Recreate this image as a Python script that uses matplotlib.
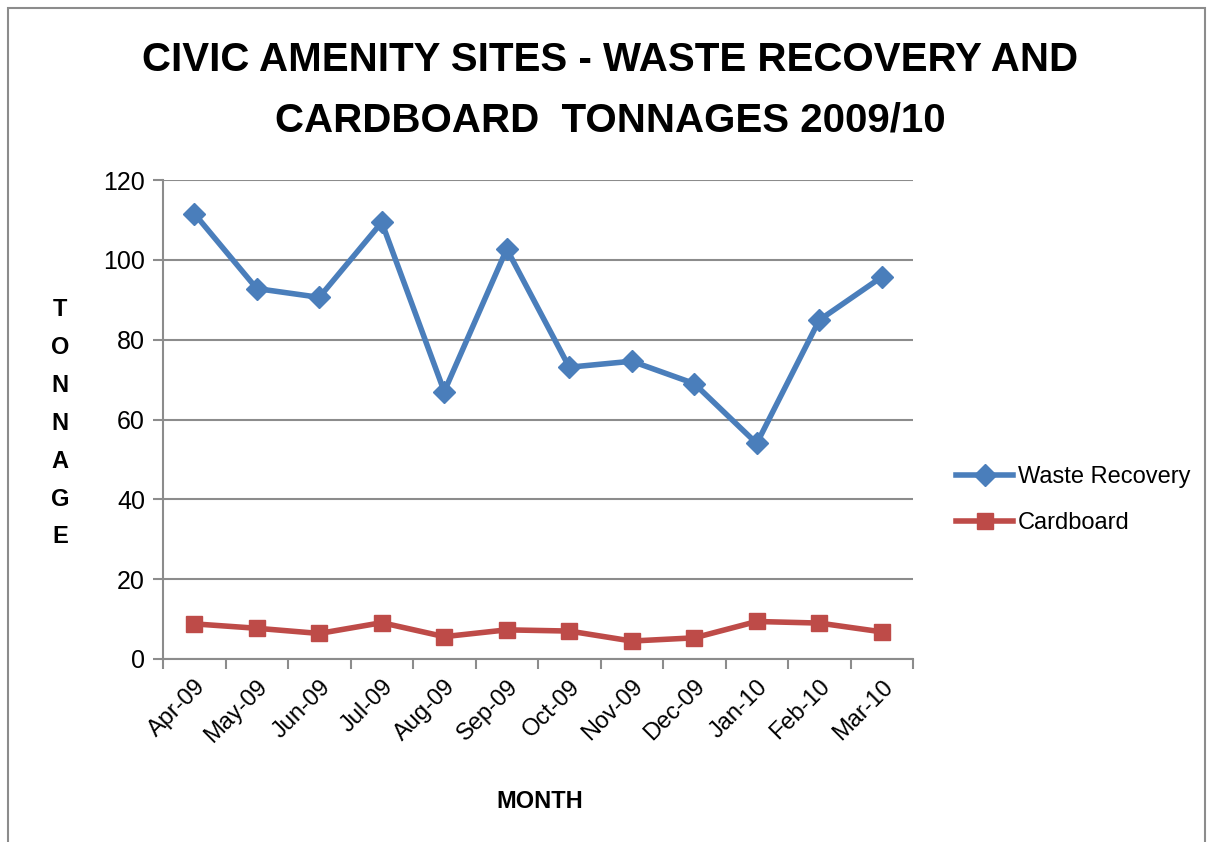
import matplotlib
matplotlib.use("Agg")
import matplotlib.pyplot as plt
from matplotlib.patches import Rectangle

months = ["Apr-09", "May-09", "Jun-09", "Jul-09", "Aug-09", "Sep-09",
          "Oct-09", "Nov-09", "Dec-09", "Jan-10", "Feb-10", "Mar-10"]
waste_recovery = [111.6, 92.8, 90.6, 109.4, 67.0, 102.7, 73.1, 74.6, 69.0, 54.0, 84.9, 95.7]
cardboard = [8.8, 7.7, 6.4, 9.1, 5.6, 7.3, 7.0, 4.5, 5.3, 9.4, 9.0, 6.8]
y_ticks = [0, 20, 40, 60, 80, 100, 120]

FONT = ["Liberation Sans Narrow", "Liberation Sans", "DejaVu Sans"]
plt.rcParams["font.family"] = FONT

W, H = 1213, 842
fig = plt.figure(figsize=(W / 100, H / 100), dpi=100)
fig.patch.set_facecolor("white")

# outer chart border
fig.add_artist(Rectangle((8 / W, -0.01), (1205 - 8) / W, (H - 8) / H + 0.01,
                         transform=fig.transFigure, fill=False,
                         edgecolor="#8c8c8c", linewidth=1.5))

ax = fig.add_axes([163 / W, (H - 659) / H, (913 - 163) / W, (659 - 180) / H])
x = list(range(len(months)))

ax.plot(x, waste_recovery, color="#4A7EBB", linewidth=4, marker="D",
        markersize=11, label="Waste Recovery", zorder=3)
ax.plot(x, cardboard, color="#BE4B48", linewidth=4, marker="s",
        markersize=12, label="Cardboard", zorder=3)

ax.set_xlim(-0.5, len(months) - 0.5)
ax.set_ylim(0, 120)
ax.set_yticks(y_ticks)
ax.set_yticklabels([str(v) for v in y_ticks], fontsize=18)
ax.yaxis.grid(True, color="#8c8c8c", linewidth=1.5)
ax.set_axisbelow(True)

ax.set_xticks([i - 0.5 for i in range(len(months) + 1)], minor=False)
ax.set_xticklabels([""] * (len(months) + 1))
ax.set_xticks(x, minor=True)
ax.set_xticklabels(months, minor=True, rotation=45, ha="right",
                   rotation_mode="anchor", fontsize=17)
ax.tick_params(axis="x", which="minor", length=0, pad=12)
ax.tick_params(axis="x", which="major", length=7, color="#8c8c8c", width=1.5)
ax.tick_params(axis="y", length=7, color="#8c8c8c", width=1.5, pad=6)

for s in ["top", "right"]:
    ax.spines[s].set_visible(False)
for s in ["left", "bottom"]:
    ax.spines[s].set_color("#8c8c8c")
    ax.spines[s].set_linewidth(1.5)

fig.text(610 / W, 1 - 60 / H, "CIVIC AMENITY SITES - WASTE RECOVERY AND",
         ha="center", va="center", fontsize=29, fontweight="bold")
fig.text(610 / W, 1 - 120 / H, "CARDBOARD  TONNAGES 2009/10",
         ha="center", va="center", fontsize=29, fontweight="bold")

fig.text(540 / W, 1 - 802 / H, "MONTH", ha="center", va="center",
         fontsize=17, fontweight="bold")

for i, ch in enumerate("TONNAGE"):
    fig.text(60 / W, 1 - (310 + i * 37.8) / H, ch, ha="center", va="center",
             fontsize=17, fontweight="bold")

leg = fig.legend(loc="center left", bbox_to_anchor=(935 / W, 1 - 500 / H),
                 frameon=False, fontsize=17, handlelength=2.4,
                 labelspacing=1.0, handletextpad=0.2)

fig.savefig("out.png", dpi=100)
